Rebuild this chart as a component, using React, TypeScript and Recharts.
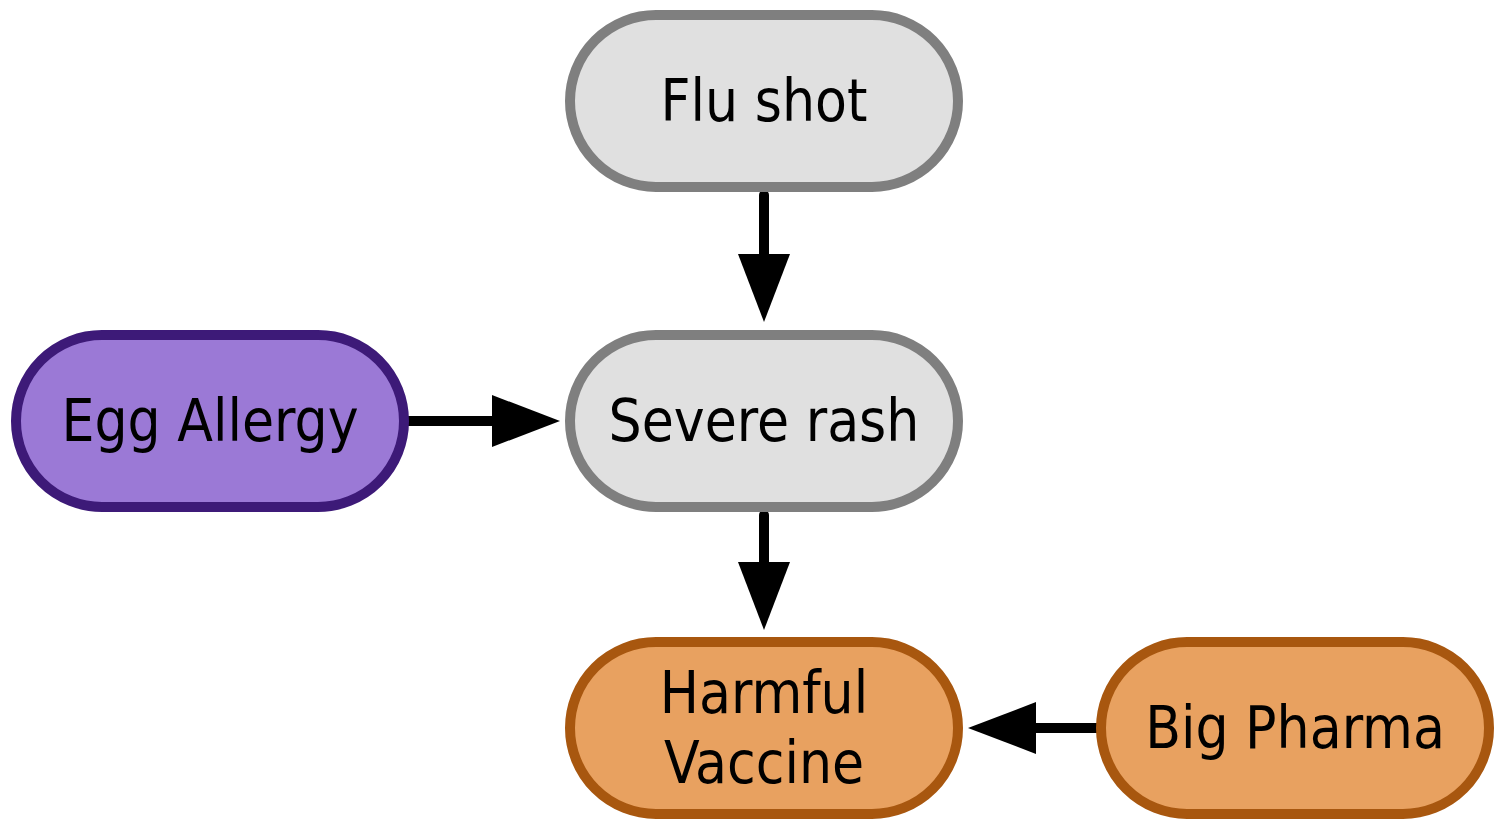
import React from "react";
import { ScatterChart, Scatter, XAxis, YAxis, ReferenceLine } from "recharts";

const nodeNames = ["Flu shot", "Severe rash", "Egg Allergy", "Harmful\nVaccine", "Big Pharma"];
const nodeX = [764, 764, 210, 764, 1295];
const nodeY = [101, 421, 421, 728, 728];
const nodeFill = ["#e0e0e0", "#e0e0e0", "#9b79d6", "#e8a160", "#e8a160"];
const nodeStroke = ["#7f7f7f", "#7f7f7f", "#3d1a78", "#a8570f", "#a8570f"];

const edgeFrom = [[764, 195], [407, 421], [764, 515], [1097, 728]];
const edgeTo = [[764, 322], [560, 421], [764, 630], [968, 728]];

const nodes = nodeNames.map((name, i) => ({ name, x: nodeX[i], y: nodeY[i], fill: nodeFill[i], stroke: nodeStroke[i] }));
const heads = edgeTo.map((t, i) => ({ x: t[0], y: t[1], dx: t[0] - edgeFrom[i][0], dy: t[1] - edgeFrom[i][1] }));

const W = 388, H = 172;
const font = "'DejaVu Sans Condensed', 'DejaVu Sans', sans-serif";

const NodeShape = (props: any) => {
  const { cx, cy, payload } = props;
  const lines = payload.name.split("\n");
  return (
    <g>
      <rect x={cx - W / 2} y={cy - H / 2} width={W} height={H} rx={H / 2} ry={H / 2}
        fill={payload.fill} stroke={payload.stroke} strokeWidth={10} />
      {lines.map((l: string, i: number) => (
        <text key={i} x={cx} y={cy + (i - (lines.length - 1) / 2) * 70} textAnchor="middle"
          dominantBaseline="central" fontSize={58} fontFamily={font} fill="#000">{l}</text>
      ))}
    </g>
  );
};

const HeadShape = (props: any) => {
  const { cx, cy, payload } = props;
  const len = Math.hypot(payload.dx, payload.dy);
  const ux = payload.dx / len, uy = payload.dy / len;
  const L = 68, B = 26;
  const bx = cx - ux * L, by = cy - uy * L;
  const pts = `${cx},${cy} ${bx - uy * B},${by + ux * B} ${bx + uy * B},${by - ux * B}`;
  return <polygon points={pts} fill="#000" />;
};

export default function App() {
  return (
    <div style={{ position: "absolute", left: 0, top: 0, background: "#fff" }}>
      <ScatterChart width={1504} height={829} margin={{ top: 0, right: 0, bottom: 0, left: 0 }}>
        <XAxis type="number" dataKey="x" domain={[0, 1504]} hide />
        <YAxis type="number" dataKey="y" domain={[0, 829]} reversed hide />
        {edgeFrom.map((f, i) => {
          const t = edgeTo[i];
          const len = Math.hypot(t[0] - f[0], t[1] - f[1]);
          const ex = t[0] - ((t[0] - f[0]) / len) * 60, ey = t[1] - ((t[1] - f[1]) / len) * 60;
          return (
            <ReferenceLine key={i} segment={[{ x: f[0], y: f[1] }, { x: ex, y: ey }]}
              stroke="#000" strokeWidth={10} strokeLinecap="round" ifOverflow="visible" />
          );
        })}
        <Scatter data={heads} shape={HeadShape} isAnimationActive={false} />
        <Scatter data={nodes} shape={NodeShape} isAnimationActive={false} />
      </ScatterChart>
    </div>
  );
}
